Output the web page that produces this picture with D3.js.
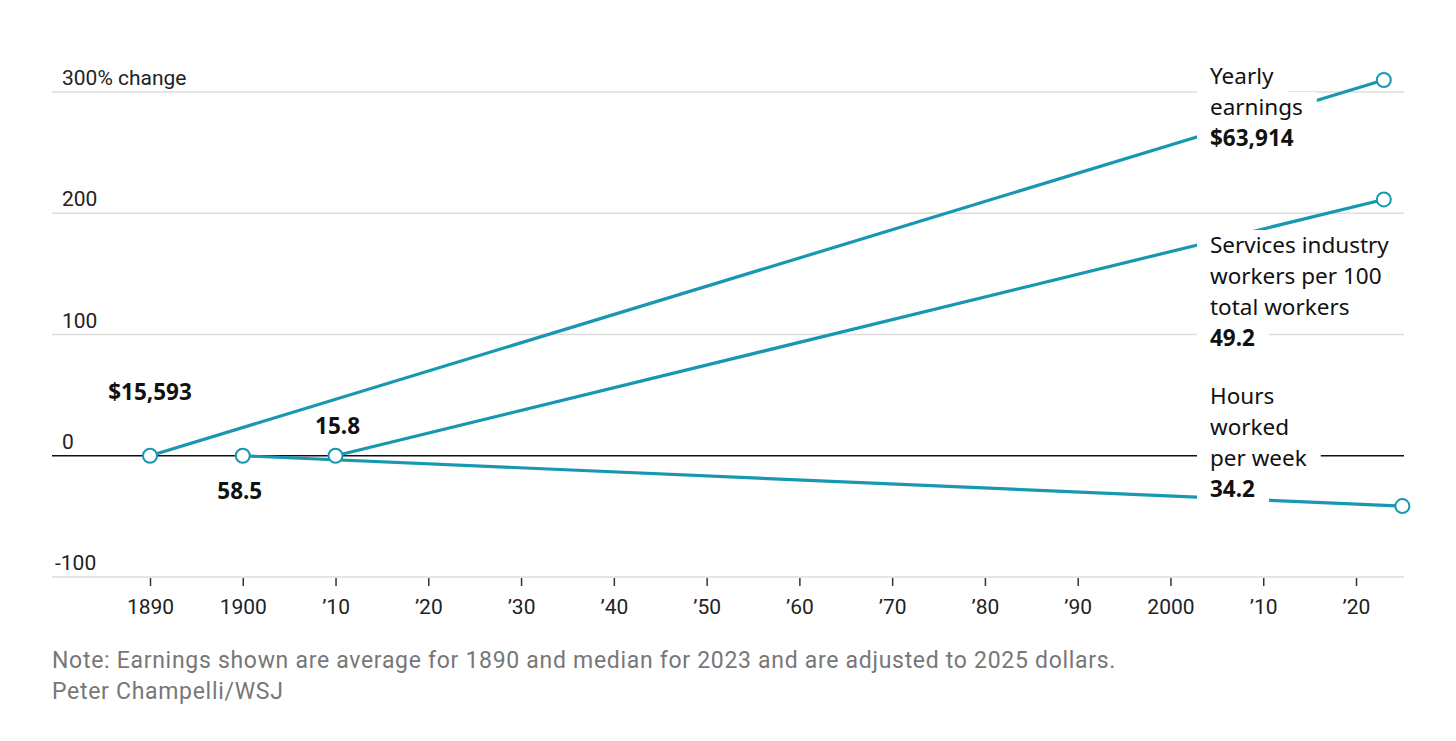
<!DOCTYPE html>
<html>
<head>
    <title>Then and now</title>
    <script src="https://cdn.jsdelivr.net/npm/d3@7"></script>
    <style>
        body { margin: 0; background: #fff; }
        .narrow { font-family: "Liberation Sans Narrow", "Roboto", sans-serif; }
        .lbl { font-family: "Noto Sans", "Open Sans", sans-serif; fill: #111; }
    </style>
</head>
<body>
    <div id="chart"></div>
    <script>
        // Data
        const seriesNames = ["Yearly earnings", "Services industry workers per 100 total workers", "Hours worked per week"];
        const labelLines = [["Yearly", "earnings"], ["Services industry", "workers per 100", "total workers"], ["Hours", "worked", "per week"]];
        const startYears = [1890, 1910, 1900];
        const endYears = [2023, 2023, 2025];
        const startValues = [15593, 15.8, 58.5];
        const endValues = [63914, 49.2, 34.2];
        const startLabels = ["$15,593", "15.8", "58.5"];
        const endLabels = ["$63,914", "49.2", "34.2"];
        const yTicks = [-100, 0, 100, 200, 300];
        const xTicks = [1890, 1900, 1910, 1920, 1930, 1940, 1950, 1960, 1970, 1980, 1990, 2000, 2010, 2020];
        const note = "Note: Earnings shown are average for 1890 and median for 2023 and are adjusted to 2025 dollars.";
        const source = "Peter Champelli/WSJ";

        const W = 1456, H = 741;
        const teal = "#1898b0";

        // percent change from each series' starting value
        const series = seriesNames.map((name, i) => ({
            name,
            lines: labelLines[i],
            pts: [
                {year: startYears[i], pct: 0},
                {year: endYears[i], pct: (endValues[i] / startValues[i] - 1) * 100}
            ],
            startLabel: startLabels[i],
            endLabel: endLabels[i]
        }));

        const svg = d3.select("#chart").append("svg")
            .attr("width", W).attr("height", H);

        const x = d3.scaleLinear().domain([1890, 2020]).range([150, 1356]);
        const y = d3.scaleLinear().domain([-100, 300]).range([577, 92]);
        const left = 52, right = 1404;

        // gridlines
        svg.append("g").selectAll("line")
            .data(yTicks)
            .join("line")
            .attr("x1", left).attr("x2", right)
            .attr("y1", d => y(d)).attr("y2", d => y(d))
            .attr("stroke", d => d === 0 ? "#111" : "#ddd")
            .attr("stroke-width", d => d === 0 ? 1.3 : 1.5);

        svg.append("g").attr("class", "narrow").selectAll("text")
            .data(yTicks)
            .join("text")
            .attr("x", d => d < 0 ? 55 : 62)
            .attr("y", d => y(d) - 7)
            .attr("font-size", 21)
            .attr("fill", "#222")
            .text(d => d === 300 ? "300% change" : d);

        // x axis
        const xAxis = d3.axisBottom(x)
            .tickValues(xTicks)
            .tickSize(8)
            .tickFormat(d => (d === 1890 || d === 1900 || d === 2000) ? d : "\u2019" + String(d).slice(2));
        const gx = svg.append("g")
            .attr("transform", `translate(0,${y(-100) + 1})`)
            .call(xAxis);
        gx.select(".domain").remove();
        gx.selectAll(".tick line").attr("stroke", "#333").attr("stroke-width", 1.5);
        gx.selectAll(".tick text")
            .attr("class", "narrow")
            .attr("font-size", 21)
            .attr("fill", "#222")
            .attr("dy", "1.2em");

        // series lines
        const line = d3.line().x(d => x(d.year)).y(d => y(d.pct));
        svg.append("g").selectAll("path")
            .data(series)
            .join("path")
            .attr("d", d => line(d.pts))
            .attr("fill", "none")
            .attr("stroke", teal)
            .attr("stroke-width", 3.2);

        // end labels with white boxes breaking the lines
        const labelX = 1210;
        const labelTop = [84, 253, 404];
        const rowH = 31;
        series.forEach((s, i) => {
            const g = svg.append("g");
            const rows = s.lines.map(t => ({t, bold: false})).concat([{t: s.endLabel, bold: true}]);
            rows.forEach((r, j) => {
                const by = labelTop[i] + j * rowH;
                const bg = g.append("rect").attr("fill", "#fff");
                const txt = g.append("text")
                    .attr("class", "lbl")
                    .attr("x", labelX).attr("y", by)
                    .attr("font-size", 22.5)
                    .attr("font-weight", r.bold ? 700 : 400)
                    .text(r.t);
                const bb = txt.node().getBBox();
                bg.attr("x", labelX - 13).attr("y", by - 23)
                    .attr("width", bb.width + 27).attr("height", rowH);
            });
        });

        // start labels
        const startOff = [[0, -56], [2, -22], [-3, 43]];
        svg.append("g").selectAll("text")
            .data(series)
            .join("text")
            .attr("class", "lbl")
            .attr("x", (d, i) => x(d.pts[0].year) + startOff[i][0])
            .attr("y", (d, i) => y(0) + startOff[i][1])
            .attr("text-anchor", "middle")
            .attr("font-size", 22.5)
            .attr("font-weight", 700)
            .text(d => d.startLabel);

        // end point circles
        const dots = series.flatMap(s => s.pts);
        svg.append("g").selectAll("circle")
            .data(dots)
            .join("circle")
            .attr("cx", d => x(d.year))
            .attr("cy", d => y(d.pct))
            .attr("r", 7)
            .attr("fill", "#fff")
            .attr("stroke", teal)
            .attr("stroke-width", 2);

        // note and source
        svg.append("text").attr("class", "narrow")
            .attr("x", 52).attr("y", 668)
            .attr("font-size", 23).attr("fill", "#777")
            .attr("letter-spacing", 0.7)
            .text(note);
        svg.append("text").attr("class", "narrow")
            .attr("x", 52).attr("y", 699)
            .attr("font-size", 23).attr("fill", "#777")
            .attr("letter-spacing", 0.7)
            .text(source);
    </script>
</body>
</html>
